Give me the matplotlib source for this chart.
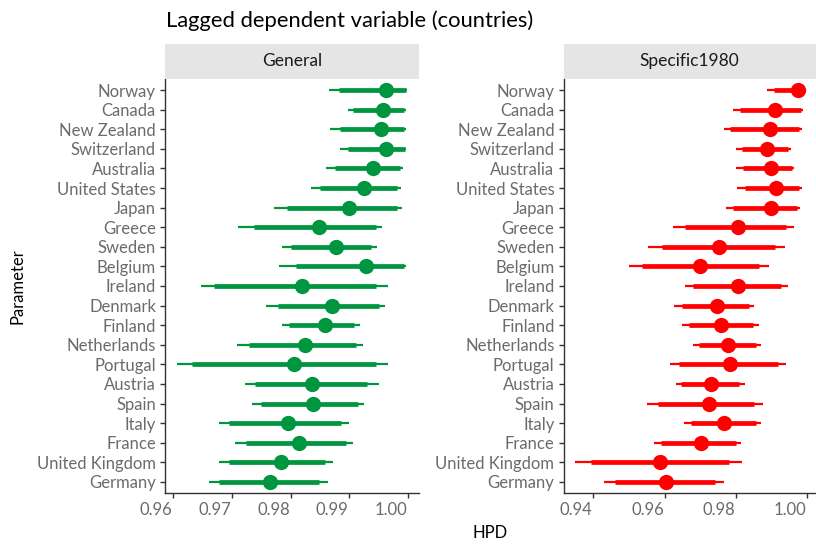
import matplotlib
matplotlib.use("Agg")
import matplotlib.pyplot as plt
import matplotlib.transforms as mtransforms
import numpy as np

plt.rcParams['font.family'] = ['Lato', 'DejaVu Sans']

countries = ["Norway", "Canada", "New Zealand", "Switzerland", "Australia",
             "United States", "Japan", "Greece", "Sweden", "Belgium", "Ireland",
             "Denmark", "Finland", "Netherlands", "Portugal", "Austria", "Spain",
             "Italy", "France", "United Kingdom", "Germany"]

# General model
gen_lo95 = [0.9866, 0.9898, 0.9867, 0.9885, 0.9860, 0.9835, 0.9772, 0.9711, 0.9785, 0.9780, 0.9648,
            0.9759, 0.9785, 0.9708, 0.9607, 0.9723, 0.9735, 0.9678, 0.9706, 0.9678, 0.9661]
gen_lo80 = [0.9882, 0.9907, 0.9885, 0.9898, 0.9876, 0.9850, 0.9794, 0.9737, 0.9801, 0.9809, 0.9670,
            0.9778, 0.9797, 0.9729, 0.9632, 0.9739, 0.9750, 0.9695, 0.9724, 0.9695, 0.9678]
gen_mid = [0.9962, 0.9957, 0.9955, 0.9962, 0.9941, 0.9925, 0.9899, 0.9848, 0.9877, 0.9928, 0.9820,
           0.9870, 0.9858, 0.9825, 0.9806, 0.9837, 0.9839, 0.9796, 0.9814, 0.9783, 0.9765]
gen_hi80 = [0.9997, 0.9993, 0.9993, 0.9995, 0.9987, 0.9981, 0.9981, 0.9946, 0.9938, 0.9994, 0.9946,
            0.9950, 0.9908, 0.9911, 0.9946, 0.9931, 0.9915, 0.9886, 0.9894, 0.9859, 0.9848]
gen_hi95 = [0.9998, 0.9996, 0.9997, 0.9997, 0.9992, 0.9989, 0.9990, 0.9956, 0.9948, 0.9997, 0.9967,
            0.9961, 0.9919, 0.9923, 0.9966, 0.9950, 0.9926, 0.9900, 0.9907, 0.9872, 0.9864]

# Specific1980 model
spe_lo95 = [0.9888, 0.9794, 0.9768, 0.9802, 0.9802, 0.9805, 0.9774, 0.9625, 0.9555, 0.9501, 0.9659,
            0.9627, 0.9650, 0.9681, 0.9616, 0.9631, 0.9550, 0.9654, 0.9571, 0.9349, 0.9430]
spe_lo80 = [0.9908, 0.9813, 0.9785, 0.9818, 0.9820, 0.9826, 0.9792, 0.9659, 0.9592, 0.9536, 0.9680,
            0.9650, 0.9669, 0.9697, 0.9642, 0.9647, 0.9582, 0.9675, 0.9590, 0.9393, 0.9462]
spe_mid = [0.9974, 0.9911, 0.9897, 0.9888, 0.9900, 0.9914, 0.9899, 0.9806, 0.9754, 0.9701, 0.9807,
           0.9747, 0.9759, 0.9778, 0.9785, 0.9732, 0.9725, 0.9767, 0.9704, 0.9588, 0.9603]
spe_hi80 = [0.9995, 0.9983, 0.9979, 0.9948, 0.9959, 0.9979, 0.9972, 0.9942, 0.9912, 0.9866, 0.9928,
            0.9838, 0.9848, 0.9858, 0.9918, 0.9810, 0.9853, 0.9856, 0.9801, 0.9781, 0.9741]
spe_hi95 = [0.9998, 0.9989, 0.9986, 0.9955, 0.9965, 0.9986, 0.9981, 0.9963, 0.9939, 0.9895, 0.9946,
            0.9852, 0.9865, 0.9871, 0.9942, 0.9825, 0.9876, 0.9871, 0.9815, 0.9817, 0.9768]

panel_titles = ["General", "Specific1980"]
colors = ["#00953F", "#FF0000"]
xticks_l = [0.96, 0.97, 0.98, 0.99, 1.00]
xticks_r = [0.94, 0.96, 0.98, 1.00]

W, H = 816, 544
fig = plt.figure(figsize=(W / 100, H / 100), dpi=100)

def px_axes(x0, y0, x1, y1):
    return fig.add_axes([x0 / W, 1 - y1 / H, (x1 - x0) / W, (y1 - y0) / H])

panels = [
    dict(box=(165, 78.7, 419, 493.3), xlim=(0.9586, 1.0019), xt=xticks_l,
         data=(gen_lo95, gen_lo80, gen_mid, gen_hi80, gen_hi95)),
    dict(box=(563.5, 78.7, 816, 493.3), xlim=(0.9316, 1.0026), xt=xticks_r,
         data=(spe_lo95, spe_lo80, spe_mid, spe_hi80, spe_hi95)),
]

n = len(countries)
ypos = np.arange(n, 0, -1)
tick_col = "#333333"
lab_col = "#6B6B6B"

for i, p in enumerate(panels):
    x0, y0, x1, y1 = p['box']
    ax = px_axes(x0, y0, x1, y1)
    lo95, lo80, mid, hi80, hi95 = p['data']
    c = colors[i]
    ax.hlines(ypos, lo95, hi95, color=c, lw=1.6, zorder=2)
    ax.hlines(ypos, lo80, hi80, color=c, lw=3.4, zorder=3)
    ax.plot(mid, ypos, 'o', color=c, ms=11, mec='none', zorder=4)
    ax.set_xlim(*p['xlim'])
    ax.set_ylim(0.42, n + 0.58)
    ax.set_yticks(ypos)
    ax.set_yticklabels(countries)
    ax.set_xticks(p['xt'])
    ax.set_xticklabels([f"{v:.2f}" for v in p['xt']])
    for s in ['top', 'right']:
        ax.spines[s].set_visible(False)
    for s in ['left', 'bottom']:
        ax.spines[s].set_color(tick_col)
        ax.spines[s].set_linewidth(1.0)
    ax.tick_params(axis='both', colors=tick_col, labelcolor=lab_col,
                   labelsize=12, length=3.5, width=1.0, pad=3)
    off = mtransforms.ScaledTranslation(-17 / 100, 0, fig.dpi_scale_trans)
    for lab in ax.get_xticklabels():
        lab.set_transform(lab.get_transform() + off)
    # strip
    sax = px_axes(x0, 44, x1, 78.7)
    sax.set_facecolor("#E5E5E5")
    sax.set_xticks([]); sax.set_yticks([])
    for s in sax.spines.values():
        s.set_visible(False)
    sax.text(0.5, 0.5, panel_titles[i], ha='center', va='center',
             fontsize=12.5, color="#1A1A1A", transform=sax.transAxes)

fig.text(165.5 / W, 1 - 21 / H, "Lagged dependent variable (countries)",
         ha='left', va='center', fontsize=15.8, color="black")
fig.text(490 / W, 1 - 533 / H, "HPD", ha='center', va='center',
         fontsize=12, color="black")
fig.text(18 / W, 1 - 286 / H, "Parameter", ha='center', va='center',
         fontsize=12, color="black", rotation=90)

fig.savefig("out.png", dpi=100)
